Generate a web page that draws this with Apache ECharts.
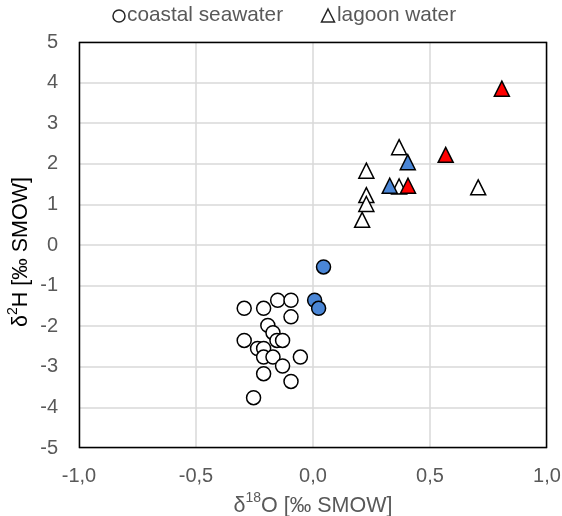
<!DOCTYPE html>
<html>
<head>
<meta charset="utf-8">
<script src="https://cdn.jsdelivr.net/npm/echarts@6/dist/echarts.min.js"></script>
<style>
  html, body { margin: 0; padding: 0; background: #fff; }
  #chart { width: 562px; height: 516px; }
</style>
</head>
<body>
<div id="chart"></div>
<script>
// δ18O / δ2H pairs
let coastalWhite = [
    [-0.294, -1.56], [-0.211, -1.56], [-0.151, -1.36], [-0.094, -1.36],
    [-0.094, -1.77], [-0.193, -1.98], [-0.171, -2.16], [-0.294, -2.35],
    [-0.154, -2.35], [-0.130, -2.35], [-0.237, -2.55], [-0.211, -2.55],
    [-0.211, -2.76], [-0.171, -2.76], [-0.054, -2.76], [-0.130, -2.98],
    [-0.211, -3.17], [-0.094, -3.36], [-0.254, -3.76]
];
let coastalBlue = [[0.045, -0.54], [0.007, -1.36], [0.024, -1.56]];
let lagoonWhite = [
    [0.368, 2.41], [0.368, 1.44], [0.228, 1.83], [0.228, 1.23],
    [0.228, 1.01], [0.210, 0.62], [0.706, 1.42]
];
let lagoonBlue = [[0.405, 2.04], [0.328, 1.46]];
let lagoonRed = [[0.807, 3.85], [0.567, 2.22], [0.406, 1.46]];

let xTicks = ['-1,0', '-0,5', '0,0', '0,5', '1,0'];

let font = 'Liberation Sans, Arial, sans-serif';
let grey = '#595959';

let nameRich = {
    b: { fontSize: 21.5, color: grey, fontFamily: font, lineHeight: 26, verticalAlign: 'bottom' },
    sup: { fontSize: 14, color: grey, fontFamily: font, lineHeight: 26, verticalAlign: 'top' }
};

function pts(name, data, symbol, color) {
    return {
        name: name,
        type: 'scatter',
        data: data,
        symbol: symbol,
        symbolSize: symbol === 'circle' ? 14 : 15,
        itemStyle: { color: color, borderColor: '#000', borderWidth: 1.5, opacity: 1 },
        emphasis: { disabled: true }
    };
}

let chart = echarts.init(document.getElementById('chart'));
chart.setOption({
    animation: false,
    textStyle: { fontFamily: font },
    grid: { left: 79, right: 15, top: 42, bottom: 68, containLabel: false, outerBoundsMode: 'none' },
    xAxis: {
        type: 'value',
        min: -1, max: 1, interval: 0.5,
        axisLine: { show: false },
        axisTick: { show: false },
        splitLine: { lineStyle: { color: '#d9d9d9', width: 1.5 } },
        axisLabel: {
            color: grey, fontSize: 20, margin: 18,
            formatter: function(v) { return xTicks[Math.round((v + 1) * 2)]; }
        },
        name: '{b|δ}{sup|18}{b|O [‰ SMOW]}',
        nameLocation: 'middle',
        nameGap: 40,
        nameTextStyle: { rich: nameRich }
    },
    yAxis: {
        type: 'value',
        min: -5, max: 5, interval: 1,
        axisLine: { show: false },
        axisTick: { show: false },
        splitLine: { lineStyle: { color: '#d9d9d9', width: 1.5 } },
        axisLabel: { color: grey, fontSize: 20, margin: 21 }
    },
    graphic: [
        {
            type: 'rect', silent: true, z: 10,
            shape: { x: 79.5, y: 42.5, width: 467, height: 405 },
            style: { fill: 'none', stroke: '#000', lineWidth: 1.5 }
        },
        {
            type: 'text', silent: true,
            x: 19, y: 252, rotation: Math.PI / 2,
            style: {
                text: '{b|δ}{sup|2}{b|H [‰ SMOW]}',
                rich: nameRich,
                align: 'center', verticalAlign: 'middle'
            }
        },
        {
            type: 'circle', silent: true,
            shape: { cx: 119, cy: 16, r: 6 },
            style: { fill: 'none', stroke: '#262626', lineWidth: 1.5 }
        },
        {
            type: 'text', left: 127, top: 5,
            style: { text: 'coastal seawater', font: '20.8px ' + font, fill: grey }
        },
        {
            type: 'polygon', silent: true,
            shape: { points: [[328, 9], [334.5, 22], [321.5, 22]] },
            style: { fill: 'none', stroke: '#262626', lineWidth: 1.5 }
        },
        {
            type: 'text', left: 337, top: 5,
            style: { text: 'lagoon water', font: '20.8px ' + font, fill: grey }
        }
    ],
    series: [
        pts('coastal seawater', coastalWhite, 'circle', '#fff'),
        pts('coastal seawater blue', coastalBlue, 'circle', '#4a86d6'),
        pts('lagoon water', lagoonWhite, 'triangle', '#fff'),
        pts('lagoon water blue', lagoonBlue, 'triangle', '#4a86d6'),
        pts('lagoon water red', lagoonRed, 'triangle', '#ff0000')
    ]
});
</script>
</body>
</html>
